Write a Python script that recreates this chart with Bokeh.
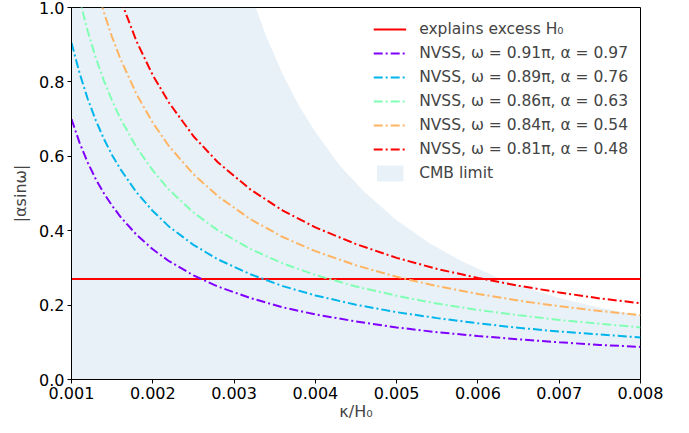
from bokeh.plotting import figure
from bokeh.models import FixedTicker, NumeralTickFormatter, Range1d, Legend, LegendItem
from bokeh.embed import file_html
from bokeh.resources import INLINE

# kappa/H0 sample positions
x_vals = [0.0010, 0.0011, 0.0012, 0.0013, 0.0014, 0.0015, 0.0016, 0.0018, 0.0020, 0.0022,
          0.0025, 0.0028, 0.0032, 0.0036, 0.0040, 0.0045, 0.0050, 0.0055, 0.0060, 0.0065,
          0.0070, 0.0075, 0.0080]
nan = float("nan")
nvss_091 = [0.700, 0.636, 0.583, 0.538, 0.500, 0.467, 0.438, 0.389, 0.350, 0.318,
            0.280, 0.250, 0.219, 0.194, 0.175, 0.156, 0.140, 0.127, 0.117, 0.108,
            0.100, 0.093, 0.0875]
nvss_089 = [0.905, 0.823, 0.754, 0.696, 0.646, 0.603, 0.566, 0.503, 0.453, 0.411,
            0.362, 0.323, 0.283, 0.251, 0.226, 0.201, 0.181, 0.165, 0.151, 0.139,
            0.129, 0.121, 0.113]
nvss_086 = [1.123, 1.021, 0.936, 0.864, 0.802, 0.749, 0.702, 0.624, 0.562, 0.510,
            0.449, 0.401, 0.351, 0.312, 0.281, 0.250, 0.225, 0.204, 0.187, 0.173,
            0.160, 0.150, 0.140]
nvss_084 = [nan, nan, nan, 1.062, 0.986, 0.920, 0.863, 0.767, 0.690, 0.627,
            0.552, 0.493, 0.431, 0.383, 0.345, 0.307, 0.276, 0.251, 0.230, 0.212,
            0.197, 0.184, 0.173]
nvss_081 = [nan, nan, nan, nan, nan, nan, 1.023, 0.909, 0.818, 0.744,
            0.654, 0.584, 0.511, 0.454, 0.409, 0.364, 0.327, 0.297, 0.273, 0.252,
            0.234, 0.218, 0.205]
excess_h0 = 0.27

cmb_x = [0.0010, 0.0020, 0.0030, 0.0032, 0.0034, 0.0036, 0.0038, 0.0040, 0.0043, 0.0046,
         0.0050, 0.0054, 0.0058, 0.0062, 0.0066, 0.0070, 0.0075, 0.0080]
cmb_y = [10.6, 2.66, 1.18, 1.04, 0.92, 0.82, 0.735, 0.665, 0.575, 0.505,
         0.428, 0.367, 0.318, 0.278, 0.246, 0.219, 0.193, 0.172]

series_labels = ["NVSS, ω = 0.91π, α = 0.97", "NVSS, ω = 0.89π, α = 0.76",
                 "NVSS, ω = 0.86π, α = 0.63", "NVSS, ω = 0.84π, α = 0.54",
                 "NVSS, ω = 0.81π, α = 0.48"]
series_colors = ["#8000ff", "#00b5eb", "#80ffb4", "#ffb462", "#ff0000"]
x_ticks = [0.001, 0.002, 0.003, 0.004, 0.005, 0.006, 0.007, 0.008]
y_ticks = [0.0, 0.2, 0.4, 0.6, 0.8, 1.0]

FONT = "DejaVu Sans"

p = figure(frame_width=569, frame_height=372, output_backend="svg", toolbar_location=None,
           x_range=Range1d(0.001, 0.008), y_range=Range1d(0.0, 1.0),
           min_border_left=71, min_border_right=49, min_border_top=7, min_border_bottom=54)
p.background_fill_color = "white"
p.border_fill_color = "white"
p.grid.visible = False
p.outline_line_color = "black"
p.outline_line_width = 1

cmb = p.varea(x=cmb_x, y1=[0] * len(cmb_x), y2=cmb_y, fill_color="#1f77b4", fill_alpha=0.1)
hline = p.line(x=[x_ticks[0], x_ticks[-1]], y=[excess_h0, excess_h0], line_color="#ff0000", line_width=2)

series = [nvss_091, nvss_089, nvss_086, nvss_084, nvss_081]
renderers = []
for ys, c in zip(series, series_colors):
    r = p.line(x=x_vals, y=ys, line_color=c, line_width=2, line_dash="9 3 2 3")
    renderers.append(r)

items = [LegendItem(label="explains excess H₀", renderers=[hline])]
for lab, r in zip(series_labels, renderers):
    items.append(LegendItem(label=lab, renderers=[r]))
items.append(LegendItem(label="CMB limit", renderers=[cmb]))
legend = Legend(items=items, location="top_right", margin=2, padding=10,
                border_line_alpha=0, background_fill_alpha=0,
                label_text_font=FONT, label_text_font_size="15.5px",
                glyph_width=33, glyph_height=20, label_height=20, spacing=4,
                label_standoff=13)
p.add_layout(legend)

p.xaxis.ticker = FixedTicker(ticks=x_ticks)
p.yaxis.ticker = FixedTicker(ticks=y_ticks)
p.xaxis.formatter = NumeralTickFormatter(format="0.000")
p.yaxis.formatter = NumeralTickFormatter(format="0.0")
for ax in [p.xaxis[0], p.yaxis[0]]:
    ax.major_tick_out = 4
    ax.major_tick_in = 0
    ax.minor_tick_out = 0
    ax.minor_tick_in = 0
    ax.major_label_text_font = FONT
    ax.major_label_text_font_size = "16px"
    ax.major_label_text_color = "black"
    ax.axis_label_text_font = FONT
    ax.axis_label_text_font_size = "16px"
    ax.axis_label_text_font_style = "normal"
    ax.axis_line_color = "black"
    ax.major_tick_line_color = "black"
p.xaxis.axis_label = "κ/H₀"
p.yaxis.axis_label = "|αsinω|"
p.xaxis.major_label_standoff = 3
p.yaxis.major_label_standoff = 3
p.xaxis.axis_label_standoff = 0
p.yaxis.axis_label_standoff = 6

open("out.html", "w").write(file_html(p, INLINE))
